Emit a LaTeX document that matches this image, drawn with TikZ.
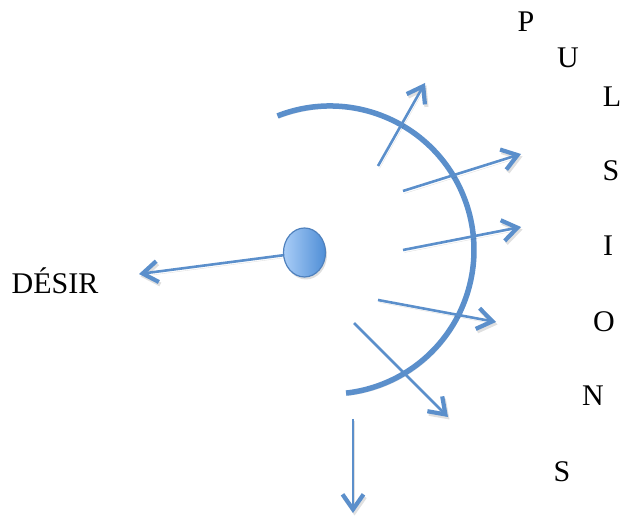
\documentclass[tikz,border=0pt]{standalone}
\usepackage{fontspec}
\setmainfont{Liberation Serif}
\definecolor{arrowblue}{HTML}{5B8FCB}
\definecolor{balllight}{HTML}{A9CDF7}
\definecolor{balldark}{HTML}{4F8ED6}
\definecolor{ballrim}{HTML}{4F81BD}
\usetikzlibrary{arrows.meta,shadows,shapes.geometric}
\tikzset{
  ghost/.style={preaction={draw=black,draw opacity=0.12,transform canvas={shift={(1.5bp,-2.5bp)}}}},
  drive/.style={-{Straight Barb[length=15bp,width=21bp,line width=4.2bp]},draw=arrowblue,line width=2.6bp,ghost},
  barrier/.style={draw=arrowblue,line width=5.5bp,ghost},
  ball/.style={ellipse,draw=ballrim,line width=1.2bp,left color=balllight,right color=balldark,
    minimum width=42bp,minimum height=49bp,inner sep=0pt,
    drop shadow={opacity=0.25,shadow xshift=1.5bp,shadow yshift=-2.5bp}},
  letter/.style={font=\fontsize{30bp}{36bp}\selectfont,inner sep=0pt},
}
\begin{document}
\begin{tikzpicture}[x=1bp,y=1bp]
    \useasboundingbox (0,0) rectangle (622,516);

    % the barrier
    \coordinate (mid) at (330,266);
    \draw[barrier] ([shift={(111.4:144)}]mid) arc[start angle=111.4,end angle=-83.6,radius=144];

    % the source
    \node[ball] (src) at (304.5,263.5) {};

    % ends of the drives
    \coordinate (d1a) at (378,350); \coordinate (d1b) at (425,433);
    \coordinate (d2a) at (403,325); \coordinate (d2b) at (521,362);
    \coordinate (d3a) at (403,266); \coordinate (d3b) at (521,289);
    \coordinate (d4a) at (378,216); \coordinate (d4b) at (496,194);
    \coordinate (d5a) at (354,193); \coordinate (d5b) at (448,99);
    \coordinate (d6a) at (353,97);  \coordinate (d6b) at (353,3);
    \coordinate (wish) at (139,242);

    \draw[drive](src)--(wish);
    \draw[drive](d1a)--(d1b);\draw[drive](d2a)--(d2b);\draw[drive](d3a)--(d3b);
    \draw[drive](d4a)--(d4b);\draw[drive](d5a)--(d5b);\draw[drive](d6a)--(d6b);

    % labels
    \node[letter,anchor=base] (desir) at (55,222) {DÉSIR};
    \node[letter] (p1) at (526,494) {P};
    \node[letter] (p2) at (568,458) {U};
    \node[letter] (p3) at (612,419) {L};
    \node[letter] (p4) at (611,345) {S};
    \node[letter] (p5) at (608,270) {I};
    \node[letter] (p6) at (604,194) {O};
    \node[letter] (p7) at (593,120) {N};
    \node[letter] (p8) at (562,44) {S};
  \end{tikzpicture}
\end{document}
